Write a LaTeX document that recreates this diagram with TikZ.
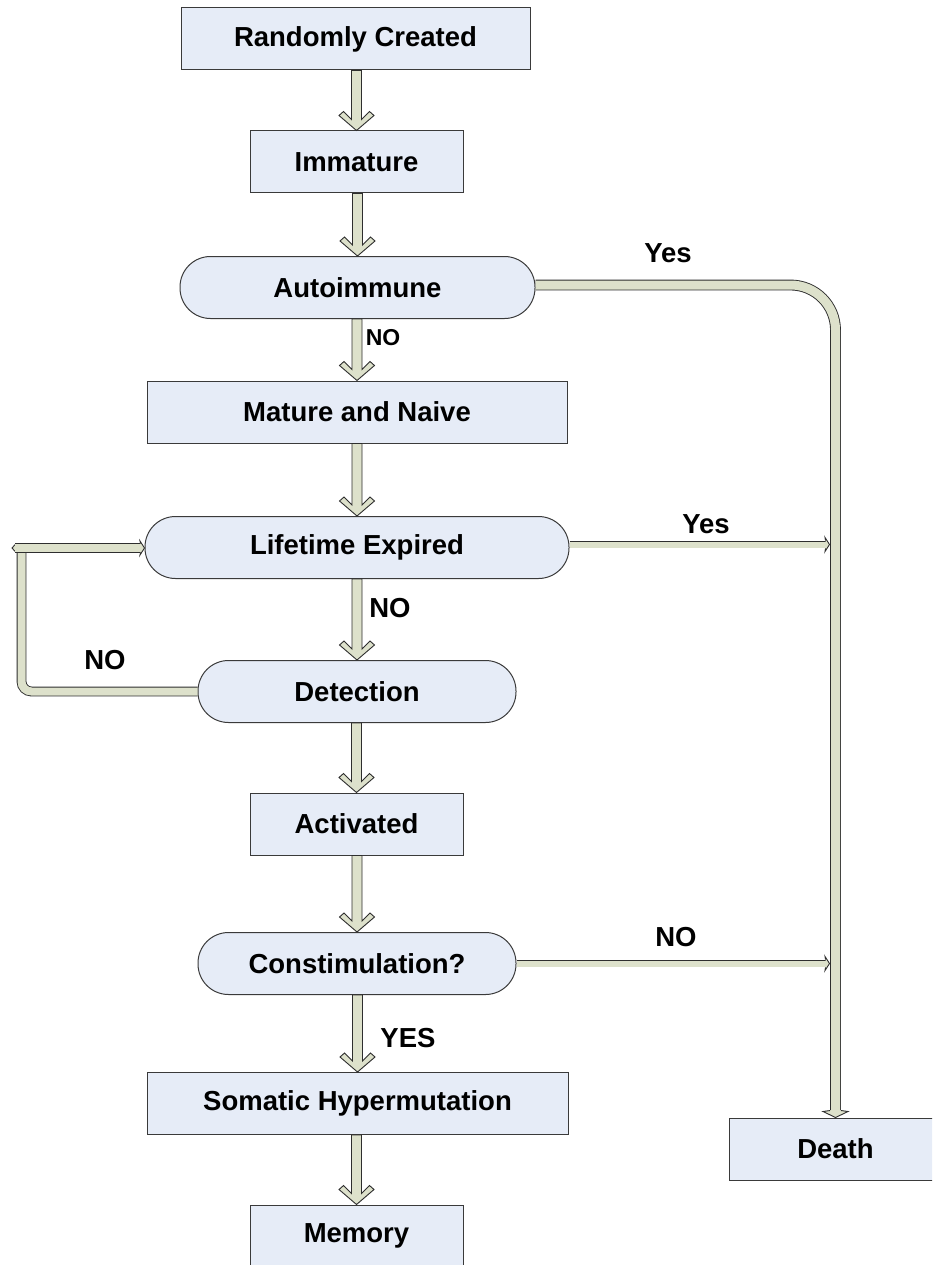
\documentclass[tikz,border=0pt]{standalone}
\usepackage{fontspec}
\setmainfont{Liberation Sans}
\usetikzlibrary{calc}

\definecolor{boxfill}{HTML}{E6ECF7}
\definecolor{boxline}{HTML}{3A3A3A}
\definecolor{arrowfill}{HTML}{DDE1CB}
\definecolor{arrowline}{HTML}{2E2E2E}

\tikzset{
  flowbox/.style={draw=boxline, line width=1pt, fill=boxfill, inner sep=0pt,
    minimum height=62pt, font=\fontsize{27.5}{30}\selectfont\bfseries},
  stadium/.style={flowbox, rounded corners=30.5pt},
  lbl/.style={font=\fontsize{27.5}{30}\selectfont\bfseries, inner sep=0pt},
  smalllbl/.style={font=\fontsize{23}{26}\selectfont\bfseries, inner sep=0pt},
  blockarrow/.style={draw=arrowline, line width=0.9pt, fill=arrowfill, line join=miter},
  headline/.style={draw=arrowline, line width=0.9pt},
  pipe/.style={draw=arrowline, line width=0.9pt, double=arrowfill, double distance=#1},
}

% wide block arrow from the bottom of #1 to the top of #2
\newcommand{\downblock}[2]{%
  \draw[blockarrow]
    ($(#2.north |- #1.south)+(-5pt,0pt)$) --
    ($(#2.north)+(-5pt,11pt)$) --
    ($(#2.north)+(-13pt,19pt)$) --
    ($(#2.north)+(-17.5pt,15pt)$) --
    (#2.north) --
    ($(#2.north)+(17.5pt,15pt)$) --
    ($(#2.north)+(13pt,19pt)$) --
    ($(#2.north)+(5pt,11pt)$) --
    ($(#2.north |- #1.south)+(5pt,0pt)$) -- cycle;}

% small head pointing right, tip at #1
\newcommand{\righthead}[2]{%
  \fill[arrowfill] ($(#1)+(-4pt,#2)$) -- ($(#1)+(-4.5pt,7pt)$) -- (#1) --
    ($(#1)+(-4.5pt,-7pt)$) -- ($(#1)+(-4pt,-#2)$) -- cycle;
  \draw[headline] ($(#1)+(-4pt,#2)$) -- ($(#1)+(-4.5pt,7pt)$) -- (#1) --
    ($(#1)+(-4.5pt,-7pt)$) -- ($(#1)+(-4pt,-#2)$);}

\begin{document}
\begin{tikzpicture}[x=1pt,y=-1pt]
\useasboundingbox (0,0) rectangle (932,1265);
\clip (0,0) rectangle (932,1265);
\fill[white] (0,0) rectangle (932,1265);

% main column
\node[flowbox, minimum width=349pt] (rand)     at (355.5,39)   {Randomly Created};
\node[flowbox, minimum width=213pt] (immature) at (356.5,162)  {Immature};
\node[stadium, minimum width=355pt] (auto)     at (357.5,287.5){Autoimmune};
\node[flowbox, minimum width=420pt] (mature)   at (357,412)    {Mature and Naive};
\node[stadium, minimum width=424pt] (life)     at (357,547.5)  {Lifetime Expired};
\node[stadium, minimum width=318pt] (detect)   at (357,691.5)  {Detection};
\node[flowbox, minimum width=213pt] (active)   at (356.5,824)  {Activated};
\node[stadium, minimum width=318pt] (costim)   at (357,963.5)  {Constimulation?};
\node[flowbox, minimum width=421pt] (somatic)  at (357.5,1103.5){Somatic Hypermutation};
\node[flowbox, minimum width=213pt] (memory)   at (356.5,1236) {Memory};
\node[flowbox, minimum width=213pt] (death)    at (835.5,1149) {Death};

% block arrows down the column
\downblock{rand}{immature}
\downblock{immature}{auto}
\downblock{auto}{mature}
\downblock{mature}{life}
\downblock{life}{detect}
\downblock{detect}{active}
\downblock{active}{costim}
\downblock{costim}{somatic}
\downblock{somatic}{memory}

% autoimmune -> death
\coordinate (turn)    at ($(auto.east -| death.north)+(0pt,2.5pt)$);
\coordinate (deathin) at ($(death.north)+(0pt,7pt)$);
\draw[pipe=9pt, rounded corners=45pt] ($(auto.east)+(0pt,2.5pt)$) -- (turn) -- (deathin);
\fill[arrowfill] ($(death.north)+(-5pt,7.5pt)$) -- ($(death.north)+(-12.5pt,6pt)$) --
  (death.north) -- ($(death.north)+(12.5pt,6pt)$) -- ($(death.north)+(5pt,7.5pt)$) -- cycle;
\draw[headline] ($(death.north)+(-5.4pt,7pt)$) -- ($(death.north)+(-12.5pt,6pt)$) --
  (death.north) -- ($(death.north)+(12.5pt,6pt)$) -- ($(death.north)+(5.4pt,7pt)$);

% lifetime expired -> death line
\coordinate (lifeend) at ($(life.east -| death.north)+(-6pt,3pt)$);
\draw[pipe=6pt] ($(life.east)+(0pt,3pt)$) -- ($(lifeend)+(-4pt,0pt)$);
\righthead{lifeend}{3.9pt}

% costimulation -> death line
\coordinate (costend) at ($(costim.east -| death.north)+(-6pt,0pt)$);
\draw[pipe=6pt] (costim.east) -- ($(costend)+(-4pt,0pt)$);
\righthead{costend}{3.9pt}

% detection loops back to lifetime expired
\coordinate (loopbot) at (21.5,691.5);
\coordinate (looptop) at (21.5,548);
\coordinate (loopin)  at ($(life.west)+(0pt,-0.5pt)$);
\draw[pipe=8pt, rounded corners=10pt] (detect.west) -- (loopbot) -- (looptop);
\fill[arrowfill] (12,548) -- (16,544) -- (16,552) -- cycle;
\draw[headline] (16,543.6) -- (12,548) -- (16,552.4);
\draw[pipe=7.5pt] (15,548) -- ($(loopin)+(-4pt,0pt)$);
\righthead{loopin}{4.6pt}

% branch labels
\node[lbl]      (yes1) at (668,253)  {Yes};
\node[smalllbl] (no1)  at (383,338)  {NO};
\node[lbl]      (yes2) at (706,524)  {Yes};
\node[lbl]      (no2)  at (390,608)  {NO};
\node[lbl]      (no3)  at (105,660)  {NO};
\node[lbl]      (no4)  at (676,937)  {NO};
\node[lbl]      (yes3) at (408,1038) {YES};
\end{tikzpicture}
\end{document}
